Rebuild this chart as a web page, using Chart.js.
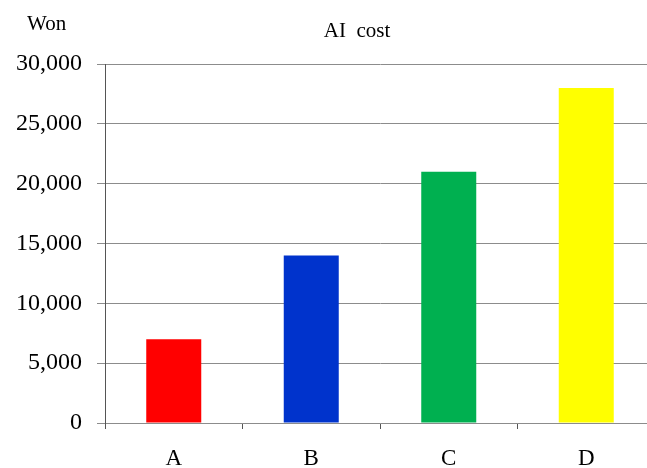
<!DOCTYPE html>
<html>
<head>
<meta charset="utf-8">
<script src="https://cdn.jsdelivr.net/npm/chart.js@4/dist/chart.umd.min.js"></script>
<style>
  html, body { margin: 0; padding: 0; background: #fff; overflow: hidden; }
  #wrap { width: 660px; height: 468px; }
</style>
</head>
<body>
<div id="wrap"><canvas id="chart"></canvas></div>
<script>
const CATEGORIES = ['A', 'B', 'C', 'D'];
const COSTS = [7000, 14000, 21000, 28000];
const BAR_COLORS = ['#ff0000', '#0033cc', '#00b050', '#ffff00'];
const TITLE = 'AI  cost';
const UNIT = 'Won';

const SERIF = '"Liberation Serif", "Times New Roman", serif';
const GRID = '#8c8c8c';

// unit label top-left and title over the plot
const headings = {
  id: 'headings',
  afterDraw(chart) {
    const ctx = chart.ctx;
    const area = chart.chartArea;
    ctx.save();
    ctx.fillStyle = '#000';
    ctx.textBaseline = 'alphabetic';
    ctx.font = '21px ' + SERIF;
    ctx.textAlign = 'left';
    ctx.fillText(UNIT, area.left - 78, area.top - 34);
    ctx.font = '21px ' + SERIF;
    ctx.textAlign = 'center';
    ctx.fillText(TITLE, area.left + 252, area.top - 27);
    ctx.restore();
  },
};

new Chart(document.getElementById('chart'), {
  type: 'bar',
  data: {
    labels: CATEGORIES,
    datasets: [{
      data: COSTS,
      backgroundColor: BAR_COLORS,
      borderWidth: 0,
      barPercentage: 0.4,
      categoryPercentage: 1,
    }],
  },
  options: {
    responsive: true,
    maintainAspectRatio: false,
    animation: false,
    layout: { padding: { top: 64, right: 5, left: 0, bottom: 0 } },
    plugins: {
      legend: { display: false },
      tooltip: { enabled: false },
    },
    scales: {
      x: {
        offset: true,
        grid: {
          offset: true,
          drawOnChartArea: false,
          drawTicks: true,
          tickLength: 6,
          color: '#555',
        },
        border: { color: GRID, width: 1 },
        ticks: {
          color: '#000',
          padding: 16,
          font: { family: SERIF, size: 23 },
        },
        afterFit(scale) { scale.height = 45; },
      },
      y: {
        min: 0,
        max: 30000,
        grid: {
          color: GRID,
          tickLength: 8,
        },
        border: { color: '#555', width: 1 },
        ticks: {
          stepSize: 5000,
          color: '#000',
          padding: 15,
          font: { family: SERIF, size: 24 },
          callback: (v) => v.toLocaleString('en-US'),
        },
        afterFit(scale) { scale.width = 105; },
      },
    },
  },
  plugins: [headings],
});
</script>
</body>
</html>
